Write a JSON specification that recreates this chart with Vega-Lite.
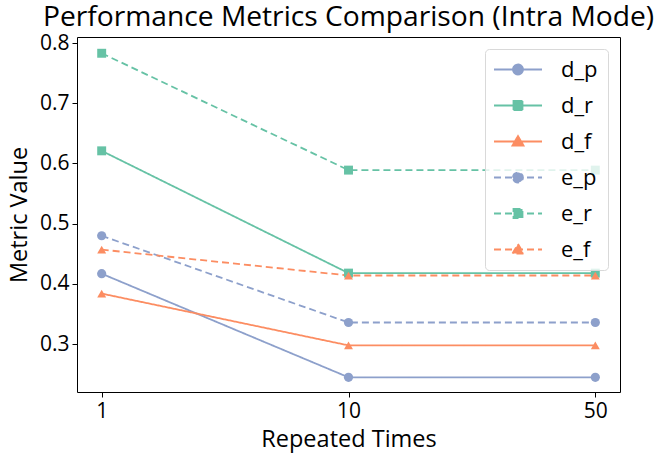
{
  "$schema": "https://vega.github.io/schema/vega-lite/v6.json",
  "width": 543,
  "height": 355,
  "autosize": {"type": "none"},
  "padding": {"left": 77, "top": 37, "right": 44, "bottom": 70},
  "background": "white",
  "config": {
    "font": "Open Sans",
    "view": {"stroke": "#000", "strokeWidth": 1},
    "axis": {"grid": false, "domain": false, "tickColor": "#000", "tickSize": 5, "labelColor": "#000", "titleColor": "#000", "labelFontSize": 21, "titleFontSize": 23.5, "titleFontWeight": "normal"},
    "legend": {"title": null, "orient": "top-right", "offset": 12, "labelFontSize": 22, "labelColor": "#000",
        "symbolSize": 400, "symbolOffset": 12.5, "labelOffset": 32, "rowPadding": 14, "padding": 9.5,
        "strokeColor": "#d9d9d9", "fillColor": "rgba(255,255,255,0.8)", "cornerRadius": 4,
        "symbolStrokeWidth": 1.8, "symbolOpacity": 1}
  },
  "title": {"text": "Performance Metrics Comparison (Intra Mode)", "fontSize": 28.2, "fontWeight": "normal", "color": "#000", "offset": 0, "anchor": "middle"},
  "data": {"values": [
    {"series": "d_p", "times": "1", "value": 0.417},
    {"series": "d_p", "times": "10", "value": 0.245},
    {"series": "d_p", "times": "50", "value": 0.245},
    {"series": "d_r", "times": "1", "value": 0.621},
    {"series": "d_r", "times": "10", "value": 0.418},
    {"series": "d_r", "times": "50", "value": 0.418},
    {"series": "d_f", "times": "1", "value": 0.384},
    {"series": "d_f", "times": "10", "value": 0.298},
    {"series": "d_f", "times": "50", "value": 0.298},
    {"series": "e_p", "times": "1", "value": 0.480},
    {"series": "e_p", "times": "10", "value": 0.336},
    {"series": "e_p", "times": "50", "value": 0.336},
    {"series": "e_r", "times": "1", "value": 0.783},
    {"series": "e_r", "times": "10", "value": 0.589},
    {"series": "e_r", "times": "50", "value": 0.589},
    {"series": "e_f", "times": "1", "value": 0.457},
    {"series": "e_f", "times": "10", "value": 0.414},
    {"series": "e_f", "times": "50", "value": 0.414}
  ]},
  "encoding": {
    "x": {"field": "times", "type": "ordinal", "sort": ["1", "10", "50"], "scale": {"type": "point", "padding": 0.1},
          "axis": {"title": "Repeated Times", "labelAngle": 0, "labelPadding": 3, "titlePadding": 6}},
    "y": {"field": "value", "type": "quantitative", "scale": {"domain": [0.2206, 0.81], "zero": false, "nice": false},
          "axis": {"title": "Metric Value", "values": [0.3, 0.4, 0.5, 0.6, 0.7, 0.8], "format": ".1f", "labelPadding": 3, "titlePadding": 8}},
    "color": {"field": "series", "type": "nominal",
      "scale": {"domain": ["d_p", "d_r", "d_f", "e_p", "e_r", "e_f"], "range": ["#8da0cb", "#66c2a5", "#fc8d62", "#8da0cb", "#66c2a5", "#fc8d62"]}}
  },
  "layer": [
    {
      "mark": {"type": "line", "strokeWidth": 1.8},
      "encoding": {
        "strokeDash": {"field": "series", "type": "nominal",
          "scale": {"domain": ["d_p", "d_r", "d_f", "e_p", "e_r", "e_f"], "range": [[1, 0], [1, 0], [1, 0], [7, 4], [7, 4], [7, 4]]}}
      }
    },
    {
      "mark": {"type": "point", "filled": true, "opacity": 0, "strokeWidth": 1.8},
      "encoding": {
        "shape": {"field": "series", "type": "nominal",
          "scale": {"domain": ["d_p", "d_r", "d_f", "e_p", "e_r", "e_f"],
            "range": [
              "M-2.4,0H2.4M-0.5,0A0.5,0.5 0 1,1 0.5,0A0.5,0.5 0 1,1 -0.5,0Z",
              "M-2.4,0H2.4M-0.45,-0.45H0.45V0.45H-0.45Z",
              "M-2.4,0H2.4M0,-0.55L0.55,0.4H-0.55Z",
              "M-2.4,0H2.4M-0.5,0A0.5,0.5 0 1,1 0.5,0A0.5,0.5 0 1,1 -0.5,0Z",
              "M-2.4,0H2.4M-0.45,-0.45H0.45V0.45H-0.45Z",
              "M-2.4,0H2.4M0,-0.55L0.55,0.4H-0.55Z"
            ]}}
      }
    },
    {
      "transform": [{"filter": {"field": "series", "oneOf": ["d_p", "e_p"]}}],
      "mark": {"type": "point", "filled": true, "size": 85, "opacity": 1, "shape": "circle"}
    },
    {
      "transform": [{"filter": {"field": "series", "oneOf": ["d_r", "e_r"]}}],
      "mark": {"type": "point", "filled": true, "size": 80, "opacity": 1, "shape": "square"}
    },
    {
      "transform": [{"filter": {"field": "series", "oneOf": ["d_f", "e_f"]}}],
      "mark": {"type": "point", "filled": true, "size": 80, "opacity": 1, "shape": "triangle-up"}
    }
  ]
}
